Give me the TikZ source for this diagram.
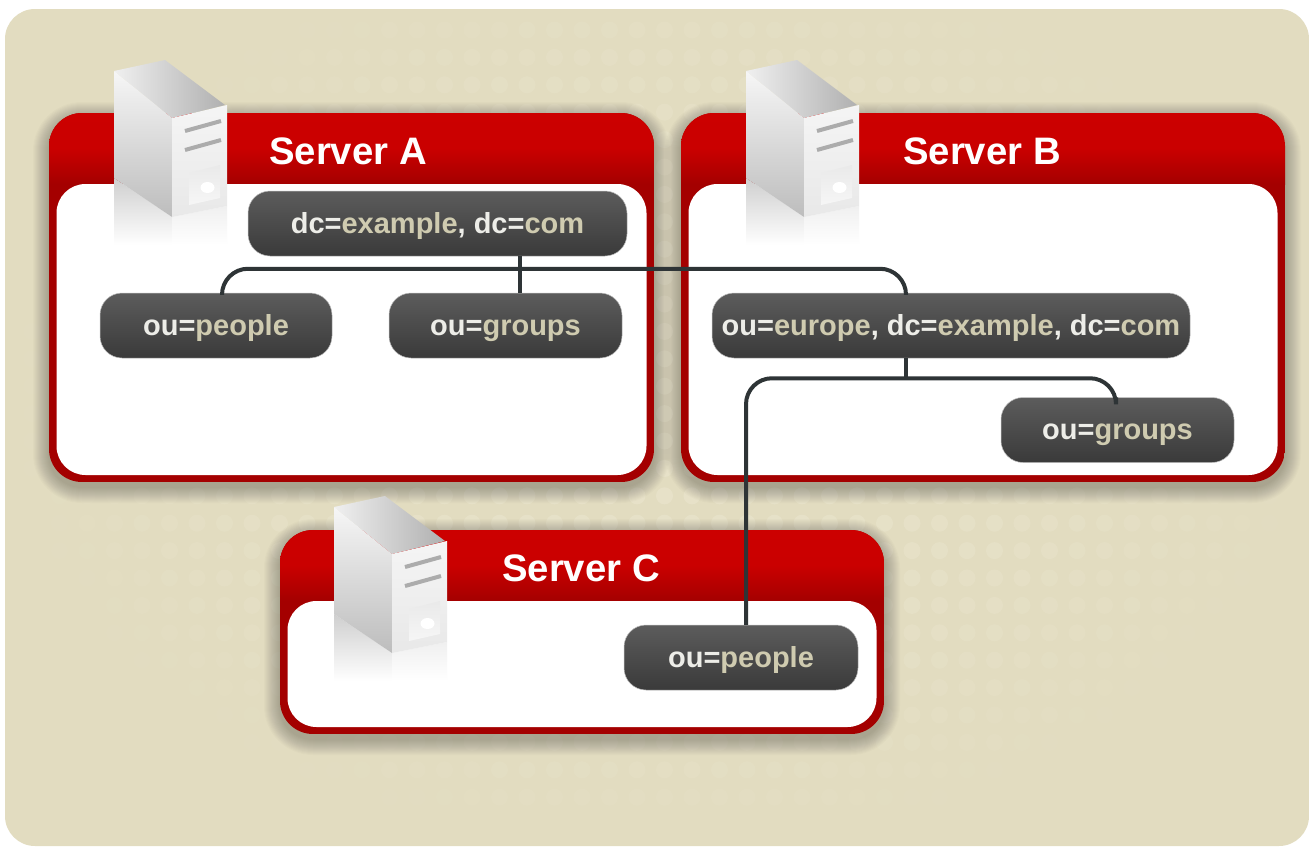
\documentclass[tikz,border=0pt]{standalone}
\usepackage{fontspec}
\setmainfont{Liberation Sans}
\usetikzlibrary{calc}
\definecolor{bgtan}{HTML}{E2DCC0}
\definecolor{bgdot}{HTML}{F0ECD8}
\definecolor{redtop}{HTML}{CC0000}
\definecolor{redlow}{HTML}{A40000}
\definecolor{linedark}{HTML}{2E3436}
\definecolor{pilltop}{HTML}{5C5C5C}
\definecolor{pilllow}{HTML}{3A3A3A}
\definecolor{txtlight}{HTML}{EDEDE8}
\definecolor{txttan}{HTML}{CFCBB0}
\tikzset{
  x=1pt,y=-1pt,
  pill/.style={rounded corners=22pt,top color=pilltop,bottom color=pilllow,draw=gray!50,line width=.5pt,
    minimum height=65pt,text height=25pt,text depth=6pt,inner sep=0pt,
    font=\fontsize{29}{32}\selectfont\bfseries,text=txtlight},
  heading/.style={anchor=base west,inner sep=0pt,text=white,font=\fontsize{38.3}{40}\selectfont\bfseries},
  wire/.style={draw=linedark,line width=4pt,rounded corners=26pt},
}
\newcommand{\hl}[1]{\textcolor{txttan}{#1}}
% box: x0 y0 x1 y1 (outer), y of the white panel top
\newcommand{\srvbox}[5]{%
  \foreach \s in {1,...,16}{
    \fill[black,opacity=.014,rounded corners=33pt+\s pt] (#1-\s,#2-\s+5) rectangle (#3+\s,#4+\s+5);
  }
  \begin{scope}
    \clip[rounded corners=33pt] (#1,#2) rectangle (#3,#4);
    \fill[redlow] (#1,#2) rectangle (#3,#4);
    \shade[top color=redtop,bottom color=redlow,middle color=redtop!95!redlow] (#1,#2) rectangle (#3,#5);
  \end{scope}
  \fill[white,rounded corners=29pt] (#1+7.5,#5) rectangle (#3-7.5,#4-7);
}
\newcommand{\srvicon}[2]{%
  \begin{scope}[shift={(#1,#2)}]
    % reflections
    \shade[top color=gray!38,bottom color=white] (114,178) -- (172,217) -- (172,245) -- (114,245) -- cycle;
    \shade[top color=gray!12,bottom color=white] (172,217) -- (227,206) -- (227,245) -- (172,245) -- cycle;
    % faces
    \shade[left color=gray!12,right color=gray!62] (114,71) -- (165,60) -- (225,105) -- (172,118) -- cycle;
    \shade[shading angle=20,top color=gray!7,bottom color=gray!52] (114,71) -- (172,118) -- (172,217) -- (114,178) -- cycle;
    \shade[top color=gray!8,bottom color=gray!18] (172,118) -- (227,105) -- (227,206) -- (172,217) -- cycle;
    % slots
    \draw[gray!65,line width=4pt] (185,131) -- (221,121);
    \draw[gray!65,line width=4pt] (185,150) -- (221,140);
    % panel and button
    \shade[top color=gray!17,bottom color=gray!7] (189,173) -- (220,165) -- (220,198) -- (189,205) -- cycle;
    \fill[white] (207.5,187.5) ellipse (7pt and 5.5pt);
  \end{scope}
}
\begin{document}
\begin{tikzpicture}
\useasboundingbox (0,0) rectangle (1309,846);
\fill[white] (0,0) rectangle (1309,846);
\fill[rounded corners=30pt,bgtan] (5,9) rectangle (1309,846);
% halftone dots of the backdrop
\foreach \ix in {0,...,45}{
  \foreach \iy in {0,...,28}{
    \pgfmathsetmacro{\px}{32+\ix*27.5}
    \pgfmathsetmacro{\py}{30+\iy*27.4}
    \pgfmathsetmacro{\dd}{veclen((\px-660)/680,(\py-400)/470)}
    \pgfmathsetmacro{\oo}{max(0,.38*(1-\dd*\dd))}
    \ifdim\oo pt>.02pt
      \fill[bgdot,opacity=\oo] (\px,\py) circle (8.5pt);
    \fi
  }
}
\srvbox{49}{113}{654}{482}{184}
\srvbox{681}{113}{1285}{482}{184}
\srvbox{280}{530}{884}{734}{601}
\srvicon{0}{0}
\srvicon{632}{0}
\srvicon{220}{436}
\node[heading] (ta) at (269,164) {Server A};
\node[heading] (tb) at (903,164) {Server B};
\node[heading] (tc) at (502,581) {Server C};
\node[pill,minimum width=379pt] (root) at (437.5,223.5) {dc=\hl{example}, dc=\hl{com}};
\node[pill,minimum width=232pt] (peopleA) at (216,325.5) {ou=\hl{people}};
\node[pill,minimum width=233pt] (groupsA) at (505.5,325.5) {ou=\hl{groups}};
\node[pill,minimum width=478pt] (europe) at (951,325.5) {ou=\hl{europe}, dc=\hl{example}, dc=\hl{com}};
\node[pill,minimum width=233pt] (groupsB) at (1117.5,430) {ou=\hl{groups}};
\node[pill,minimum width=234pt] (peopleC) at (741,657.5) {ou=\hl{people}};
% connectors
\draw[wire] ([xshift=6pt]peopleA.north) -- ++(0,-24) -| ([xshift=-45pt]europe.north);
\draw[wire] ([xshift=82.5pt]root.south) -- ([xshift=14.5pt]groupsA.north);
\draw[wire] ([xshift=5pt]peopleC.north) |- ($(europe.south)+(-45,20)$) -| ([xshift=-1.5pt]groupsB.north);
\draw[wire] ([xshift=-45pt]europe.south) -- ++(0,20);
\end{tikzpicture}
\end{document}
